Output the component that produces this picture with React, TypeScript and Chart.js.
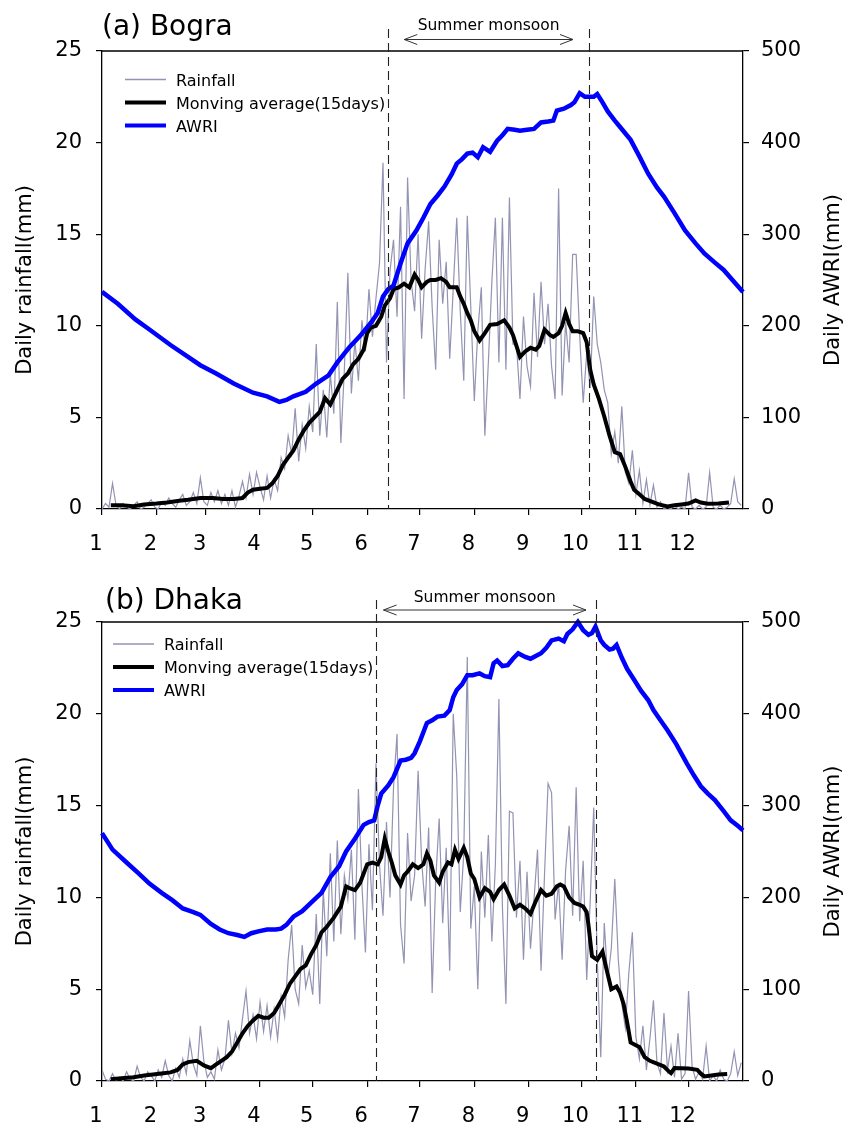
import React, { useEffect, useRef } from 'react';
import { Chart, registerables } from 'chart.js';

Chart.register(...registerables);

// ---------- axis data ----------
const MONTH_STARTS = [1, 32, 60, 91, 121, 152, 182, 213, 244, 274, 305, 335];
const MONTH_LABELS = ['1', '2', '3', '4', '5', '6', '7', '8', '9', '10', '11', '12'];
const SERIES_LABELS = ['Rainfall', 'Monving average(15days)', 'AWRI'];

// ---------- (a) Bogra ----------
// daily rainfall (mm), every second day starting at day 1
const RAIN_A = [
  0, 0.3, 0.1, 1.4, 0.2, 0, 0.3, 0.1, 0, 0.2,
  0.4, 0, 0.1, 0.3, 0.5, 0.1, 0, 0.4, 0.2, 0.6,
  0.3, 0.1, 0.5, 0.8, 0.2, 0.4, 0.9, 0.3, 1.7, 0.4,
  0.2, 0.9, 0.4, 1.0, 0.3, 0.8, 0.2, 1.0, 0.1, 0.7,
  1.5, 0.6, 1.9, 0.8, 2.0, 1.2, 0.5, 1.8, 0.6, 1.6,
  1.0, 2.8, 2.2, 4.0, 3.0, 5.5, 2.6, 4.6, 3.3, 5.6,
  4.2, 9.0, 4.0, 6.5, 3.9, 7.4, 5.2, 11.3, 3.6, 7.6,
  12.9, 6.3, 9.2, 7.0, 10.3, 8.6, 12.0, 9.4, 11.5, 13.4,
  18.9, 8.0, 13.0, 14.7, 10.5, 16.5, 6.0, 18.1, 12.5, 10.8,
  15.0, 9.3, 13.1, 15.7, 11.0, 7.6, 14.7, 11.2, 13.5, 8.2,
  12.0, 15.9, 10.8, 7.0, 16.0, 11.0, 5.9, 9.7, 12.1, 4.0,
  8.0, 12.4, 15.9, 8.0, 15.9, 7.6, 17.0, 9.0, 9.0, 6.0,
  10.5, 7.8, 6.7, 11.8, 8.3, 12.4, 9.0, 11.2, 7.8, 6.0,
  17.5, 6.2, 10.2, 8.0, 13.9, 13.9, 9.5, 5.8, 8.5, 6.6,
  11.6, 9.0, 8.0, 6.5, 5.8, 3.0, 4.2, 2.5, 5.6, 2.0,
  1.4, 3.2, 0.8, 2.1, 0.3, 1.6, 0.2, 1.3, 0.1, 0.4,
  0, 0.1, 0, 0.2, 0, 0.1, 0, 1.97, 0.1, 0,
  0.2, 0, 0.1, 1.98, 0.1, 0, 0.2, 0, 0.1, 0.3,
  1.65, 0.4, 0.2,
];
const MA_A_DAYS = [
  6, 12, 19, 25, 32, 38, 45, 50, 57, 64, 70, 76, 81, 84, 87, 91, 95, 98, 101, 104,
  107, 110, 113, 116, 119, 122, 125, 128, 131, 135, 138, 141, 144, 147, 150, 152, 154, 157, 160, 162,
  165, 167, 170, 173, 176, 179, 181, 183, 186, 188, 191, 194, 197, 199, 203, 205, 207, 209, 211, 213,
  216, 219, 222, 226, 230, 233, 235, 237, 239, 242, 245, 248, 250, 253, 256, 258, 261, 263, 265, 267,
  269, 272, 275, 277, 279, 281, 284, 287, 290, 293, 296, 299, 302, 304, 307, 310, 314, 318, 323, 327,
  331, 335, 339, 342, 346, 352, 358,
];
const MA_A = [
  0.2, 0.2, 0.15, 0.25, 0.3, 0.36, 0.45, 0.5, 0.6, 0.6, 0.55, 0.55, 0.6, 0.9, 1.05, 1.1, 1.15, 1.4, 1.8, 2.4,
  2.8, 3.2, 3.8, 4.3, 4.7, 5.0, 5.3, 6.05, 5.7, 6.5, 7.1, 7.4, 7.9, 8.2, 8.7, 9.6, 9.9, 10.0, 10.5, 11.1,
  11.5, 12.0, 12.1, 12.3, 12.1, 12.8, 12.5, 12.1, 12.4, 12.5, 12.5, 12.6, 12.4, 12.1, 12.1, 11.6, 11.2, 10.7, 10.3, 9.7,
  9.2, 9.6, 10.05, 10.1, 10.3, 9.9, 9.5, 8.9, 8.3, 8.6, 8.8, 8.7, 8.9, 9.8, 9.5, 9.4, 9.6, 10.0, 10.7, 10.1,
  9.7, 9.7, 9.6, 9.1, 7.6, 6.8, 6.0, 5.05, 4.0, 3.1, 3.0, 2.3, 1.5, 1.05, 0.8, 0.55, 0.4, 0.25, 0.14, 0.2,
  0.25, 0.3, 0.47, 0.35, 0.29, 0.3, 0.36,
];
const AWRI_A_DAYS = [
  1, 10, 20, 28, 40, 50, 57, 66, 76, 87, 95, 102, 106, 110, 117, 123, 130, 135, 142, 148,
  154, 158, 161, 164, 167, 171, 175, 180, 184, 188, 192, 196, 200, 203, 206, 209, 212, 215, 218, 222,
  226, 229, 232, 236, 239, 243, 247, 251, 255, 258, 260, 264, 268, 270, 273, 276, 279, 281, 283, 286,
  289, 293, 296, 302, 307, 312, 317, 321, 327, 333, 339, 344, 350, 355, 360, 366,
];
const AWRI_A = [
  237, 224, 207, 196, 179, 166, 157, 148, 137, 127, 123, 117, 119, 123, 128, 137, 146, 160, 177, 189,
  203, 214, 232, 240, 244, 268, 290, 304, 318, 333, 342, 352, 365, 377, 382, 388, 389, 384, 395, 390,
  402, 408, 415, 414, 413, 414, 415, 422, 423, 424, 435, 437, 441, 444, 454, 450, 450, 450, 453, 444,
  434, 424, 417, 403, 385, 366, 351, 341, 323, 304, 290, 279, 269, 261, 250, 237,
];
const MONSOON_A = [163.6, 278.1];
const ARROW_A = [173.1, 269.2];

// ---------- (b) Dhaka ----------
const RAIN_B = [
  0.6, 0.1, 0, 0.4, 0, 0.2, 0, 0.5, 0.1, 0,
  0.8, 0.2, 0, 0.5, 0.3, 0, 0.6, 0.2, 1.1, 0.3,
  0, 0.7, 0.2, 1.2, 0.4, 2.2, 0.9, 0.3, 3.0, 1.1,
  0.2, 0.5, 0.1, 1.7, 0.6, 1.2, 3.3, 1.5, 2.6, 1.8,
  3.4, 4.9, 2.6, 3.6, 2.3, 4.3, 2.7, 4.1, 2.4, 3.9,
  2.3, 4.6, 3.5, 6.6, 8.5, 5.0, 4.2, 7.4, 5.1, 6.0,
  4.7, 9.1, 4.2, 10.4, 6.8, 12.4, 7.6, 13.1, 8.0, 11.2,
  9.9, 12.6, 7.7, 15.9, 10.7, 7.0, 12.9, 9.3, 17.3, 11.8,
  9.0, 14.1, 10.0, 16.0, 18.9, 8.5, 6.4, 13.5, 9.8, 11.2,
  16.9, 12.0, 9.5, 13.8, 4.8, 10.9, 14.3, 8.6, 12.7, 6.0,
  20.0, 16.6, 9.2, 12.4, 23.1, 8.3, 10.6, 5.0, 12.5, 8.9,
  13.4, 7.6, 11.8, 20.8, 9.5, 4.2, 14.7, 14.6, 8.9, 12.0,
  6.6, 11.4, 7.2, 9.9, 12.6, 6.0, 11.3, 16.2, 15.7, 8.8,
  10.8, 6.6, 11.5, 13.9, 9.0, 16.0, 8.7, 12.0, 5.5, 9.8,
  14.9, 6.7, 1.3, 8.6, 5.5, 7.2, 11.0, 6.6, 4.2, 2.9,
  5.9, 8.1, 2.4, 1.2, 3.0, 0.6, 2.3, 4.4, 1.0, 0.4,
  3.7, 0.6, 1.9, 0.2, 2.6, 0.1, 0.4, 4.9, 0.8, 0.1,
  0.5, 0.1, 1.9, 0, 0.3, 0, 0.6, 0.1, 0, 0.4,
  1.6, 0.3, 1.0,
];
const MA_B_DAYS = [
  6, 12, 19, 25, 30, 36, 40, 44, 47, 50, 55, 59, 63, 66, 69, 72, 75, 78, 81, 84,
  87, 90, 93, 96, 99, 102, 105, 108, 111, 114, 117, 120, 123, 126, 129, 133, 137, 140, 142, 145,
  148, 150, 152, 155, 158, 160, 162, 164, 166, 168, 171, 173, 175, 178, 181, 184, 186, 188, 190, 193,
  195, 198, 200, 202, 204, 207, 209, 211, 213, 216, 219, 222, 224, 227, 230, 233, 236, 239, 242, 245,
  248, 251, 254, 257, 260, 262, 264, 267, 270, 273, 275, 277, 278, 280, 283, 286, 288, 291, 294, 296,
  298, 300, 302, 305, 307, 310, 313, 317, 321, 324, 325, 327, 331, 335, 340, 342, 344, 348, 352, 357,
];
const MA_B = [
  0.1, 0.15, 0.2, 0.3, 0.35, 0.42, 0.47, 0.6, 0.9, 1.03, 1.1, 0.85, 0.7, 0.9, 1.1, 1.3, 1.6, 2.1, 2.6, 3.0,
  3.3, 3.55, 3.45, 3.45, 3.7, 4.2, 4.7, 5.3, 5.7, 6.1, 6.3, 6.9, 7.4, 8.1, 8.4, 8.9, 9.5, 10.6, 10.5, 10.4,
  10.8, 11.3, 11.8, 11.9, 11.8, 12.2, 13.2, 12.5, 11.9, 11.2, 10.7, 11.2, 11.4, 11.8, 11.6, 11.8, 12.4, 12.0, 11.2, 10.8,
  11.4, 11.9, 11.8, 12.6, 12.1, 12.7, 12.2, 11.3, 11.0, 10.0, 10.5, 10.3, 9.9, 10.4, 10.7, 10.1, 9.4, 9.6, 9.4, 9.1,
  9.8, 10.4, 10.1, 10.2, 10.6, 10.7, 10.6, 10.0, 9.7, 9.6, 9.5, 9.2, 8.5, 6.8, 6.6, 7.05, 6.2, 5.0, 5.15, 4.8,
  4.2, 3.2, 2.1, 1.95, 1.85, 1.3, 1.1, 0.95, 0.79, 0.5, 0.43, 0.71, 0.7, 0.68, 0.61, 0.4, 0.25, 0.3, 0.35, 0.38,
];
const AWRI_B_DAYS = [
  1, 7, 15, 22, 28, 35, 41, 47, 53, 57, 63, 68, 73, 78, 82, 86, 90, 95, 100, 103,
  106, 110, 115, 121, 126, 131, 136, 140, 145, 150, 153, 156, 158, 160, 164, 167, 171, 174, 177, 179,
  182, 186, 189, 192, 196, 199, 201, 203, 206, 209, 212, 216, 219, 222, 224, 226, 229, 232, 235, 238,
  242, 245, 248, 251, 254, 257, 261, 264, 266, 269, 272, 275, 278, 280, 282, 285, 287, 290, 292, 294,
  297, 300, 304, 308, 312, 315, 319, 323, 328, 334, 338, 342, 346, 350, 355, 359, 363, 366,
];
const AWRI_B = [
  270, 252, 238, 226, 215, 205, 197, 188, 184, 181, 171, 165, 161, 159, 157, 161, 163, 165, 165, 166,
  170, 179, 185, 196, 205, 222, 234, 250, 264, 279, 282, 284, 300, 313, 322, 331, 349, 350, 352, 357,
  370, 390, 393, 397, 398, 404, 418, 426, 432, 442, 442, 444, 441, 440, 455, 458, 452, 453, 460, 466,
  462, 460, 463, 466, 472, 480, 482, 479, 487, 492, 500, 491, 486, 488, 495, 480, 475, 470, 471, 475,
  461, 449, 437, 425, 415, 404, 393, 382, 367, 346, 333, 321, 313, 306, 294, 284, 278, 273,
];
const MONSOON_B = [157.2, 282.3];
const ARROW_B = [161.3, 276.6];

// ---------- style ----------
const FONT = '"DejaVu Sans", "Liberation Sans", Arial, sans-serif';
const RAIN_COLOR = '#9393b3';
const MA_COLOR = '#000000';
const AWRI_COLOR = '#0000ff';

type PanelCfg = {
  title: string;
  rain: number[];
  maDays: number[];
  ma: number[];
  awriDays: number[];
  awri: number[];
  monsoon: number[];
  arrow: number[];
  height: number;
  padTop: number;
  xHeight: number;
  titleX: number;
  titleY: number;
  monsoonTextY: number;
  arrowY: number;
  dashTop: number;
  legendX: number;
  legendY: number;
};

const PANELS: PanelCfg[] = [
  {
    title: '(a) Bogra', rain: RAIN_A, maDays: MA_A_DAYS, ma: MA_A, awriDays: AWRI_A_DAYS, awri: AWRI_A,
    monsoon: MONSOON_A, arrow: ARROW_A, height: 560, padTop: 51, xHeight: 51,
    titleX: 102, titleY: 35, monsoonTextY: 30, arrowY: 39.5, dashTop: 29, legendX: 125, legendY: 79.5,
  },
  {
    title: '(b) Dhaka', rain: RAIN_B, maDays: MA_B_DAYS, ma: MA_B, awriDays: AWRI_B_DAYS, awri: AWRI_B,
    monsoon: MONSOON_B, arrow: ARROW_B, height: 565, padTop: 62, xHeight: 44,
    titleX: 105, titleY: 48.5, monsoonTextY: 41.5, arrowY: 50, dashTop: 40, legendX: 113, legendY: 84,
  },
];

function decorPlugin(p: PanelCfg) {
  return {
    id: 'decor',
    afterDraw(chart: any) {
      const ctx: CanvasRenderingContext2D = chart.ctx;
      const a = chart.chartArea;
      const xs = chart.scales.x;
      ctx.save();
      // top frame line
      ctx.strokeStyle = '#000';
      ctx.lineWidth = 1.3;
      ctx.beginPath();
      ctx.moveTo(a.left, a.top);
      ctx.lineTo(a.right, a.top);
      ctx.stroke();

      // dashed monsoon boundaries
      ctx.strokeStyle = '#222';
      ctx.lineWidth = 1.1;
      ctx.setLineDash([9, 5]);
      p.monsoon.forEach((d) => {
        const x = Math.round(xs.getPixelForValue(d)) + 0.5;
        ctx.beginPath();
        ctx.moveTo(x, p.dashTop);
        ctx.lineTo(x, a.bottom);
        ctx.stroke();
      });
      ctx.setLineDash([]);

      // arrow
      const x1 = xs.getPixelForValue(p.arrow[0]);
      const x2 = xs.getPixelForValue(p.arrow[1]);
      const y = p.arrowY;
      ctx.strokeStyle = '#333';
      ctx.lineWidth = 1;
      ctx.beginPath();
      ctx.moveTo(x1, y);
      ctx.lineTo(x2, y);
      ctx.moveTo(x1 + 13, y - 5);
      ctx.lineTo(x1, y);
      ctx.lineTo(x1 + 13, y + 5);
      ctx.moveTo(x2 - 13, y - 5);
      ctx.lineTo(x2, y);
      ctx.lineTo(x2 - 13, y + 5);
      ctx.stroke();

      ctx.fillStyle = '#000';
      ctx.textBaseline = 'alphabetic';
      ctx.textAlign = 'center';
      ctx.font = `15.5px ${FONT}`;
      ctx.fillText('Summer monsoon', (x1 + x2) / 2, p.monsoonTextY);

      // panel title
      ctx.textAlign = 'left';
      ctx.font = `28px ${FONT}`;
      ctx.fillText(p.title, p.titleX, p.titleY);

      // legend
      const styles = [
        { c: RAIN_COLOR, w: 1.3 },
        { c: MA_COLOR, w: 4 },
        { c: AWRI_COLOR, w: 4 },
      ];
      ctx.font = `16px ${FONT}`;
      SERIES_LABELS.forEach((lab, i) => {
        const ly = p.legendY + i * 23;
        ctx.strokeStyle = styles[i].c;
        ctx.lineWidth = styles[i].w;
        ctx.beginPath();
        ctx.moveTo(p.legendX, ly);
        ctx.lineTo(p.legendX + 41, ly);
        ctx.stroke();
        ctx.fillStyle = '#000';
        ctx.fillText(lab, p.legendX + 51, ly + 6);
      });

      // axis titles
      const cy = (a.top + a.bottom) / 2;
      ctx.font = `21px ${FONT}`;
      ctx.textAlign = 'center';
      ctx.save();
      ctx.translate(31, cy);
      ctx.rotate(-Math.PI / 2);
      ctx.fillText('Daily rainfall(mm)', 0, 0);
      ctx.restore();
      ctx.save();
      ctx.translate(839, cy);
      ctx.rotate(-Math.PI / 2);
      ctx.fillText('Daily AWRI(mm)', 0, 0);
      ctx.restore();

      ctx.restore();
    },
  };
}

function PanelChart({ p }: { p: PanelCfg }) {
  const ref = useRef<HTMLCanvasElement>(null);
  useEffect(() => {
    if (!ref.current) return;
    const tickFont = { family: FONT, size: 21 };
    const grid = { drawOnChartArea: false, drawTicks: true, tickLength: 6, color: '#000', lineWidth: 1.2 };
    const border = { display: true, color: '#000', width: 1.3 };
    const rainData = p.rain.map((v, i) => ({ x: 1 + 2 * i, y: v }));
    const chart = new Chart(ref.current, {
      type: 'line',
      data: {
        datasets: [
          {
            label: SERIES_LABELS[2], yAxisID: 'y2',
            data: p.awriDays.map((d, i) => ({ x: d, y: p.awri[i] })),
            borderColor: AWRI_COLOR, borderWidth: 4.5, pointRadius: 0, order: 0, clip: 4,
          },
          {
            label: SERIES_LABELS[1], yAxisID: 'y',
            data: p.maDays.map((d, i) => ({ x: d, y: p.ma[i] })),
            borderColor: MA_COLOR, borderWidth: 4, pointRadius: 0, order: 1,
          },
          {
            label: SERIES_LABELS[0], yAxisID: 'y',
            data: rainData,
            borderColor: RAIN_COLOR, borderWidth: 1.2, pointRadius: 0, order: 2,
          },
        ],
      } as any,
      options: {
        responsive: false,
        animation: false,
        events: [],
        layout: { padding: { top: p.padTop, left: 0, right: 0, bottom: 0 }, autoPadding: false } as any,
        plugins: { legend: { display: false }, tooltip: { enabled: false }, title: { display: false } },
        scales: {
          x: {
            type: 'linear', min: 1, max: 366,
            afterBuildTicks: (s: any) => { s.ticks = MONTH_STARTS.map((v) => ({ value: v })); },
            afterFit: (s: any) => { s.height = p.xHeight; },
            ticks: {
              callback: (v: any) => MONTH_LABELS[MONTH_STARTS.indexOf(Number(v))],
              font: tickFont, color: '#000', padding: 17, labelOffset: -6,
              maxRotation: 0, minRotation: 0, autoSkip: false,
            },
            grid, border,
          },
          y: {
            type: 'linear', position: 'left', min: 0, max: 25,
            afterFit: (s: any) => { s.width = 102; },
            ticks: { stepSize: 5, font: tickFont, color: '#000', padding: 14 },
            grid, border,
          },
          y2: {
            type: 'linear', position: 'right', min: 0, max: 500,
            afterFit: (s: any) => { s.width = 117; },
            ticks: { stepSize: 100, font: tickFont, color: '#000', padding: 12 },
            grid, border,
          },
        },
      } as any,
      plugins: [decorPlugin(p)],
    });
    return () => chart.destroy();
  }, [p]);
  return <canvas ref={ref} width={860} height={p.height} style={{ display: 'block' }} />;
}

export default function App() {
  return (
    <div style={{ position: 'absolute', left: 0, top: 0, width: 860, height: 1125, background: '#fff', overflow: 'hidden' }}>
      {PANELS.map((p) => (
        <PanelChart key={p.title} p={p} />
      ))}
    </div>
  );
}
